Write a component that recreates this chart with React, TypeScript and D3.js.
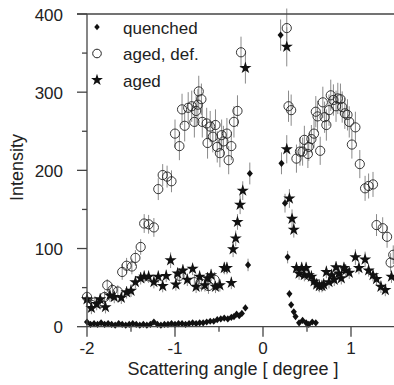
import React, { useEffect, useRef } from 'react'
import * as d3 from 'd3'

// [angle, intensity, error]
const quenched: [number, number, number][] = [
  [-2.0, 6, 2], [-1.96, 3, 2], [-1.92, 4, 2], [-1.88, 3, 2], [-1.84, 5, 2], [-1.8, 3, 2],
  [-1.76, 4, 2], [-1.72, 3, 2], [-1.68, 2, 2], [-1.64, 4, 2], [-1.6, 3, 2], [-1.56, 2, 2],
  [-1.52, 3, 2], [-1.48, 4, 2], [-1.44, 3, 2], [-1.4, 2, 2], [-1.36, 3, 2], [-1.32, 2, 2],
  [-1.28, 3, 2], [-1.24, 6, 2], [-1.2, 3, 2], [-1.16, 2, 2], [-1.12, 3, 2], [-1.08, 3, 2],
  [-1.04, 4, 2], [-1.0, 3, 2], [-0.96, 4, 2], [-0.92, 4, 2], [-0.88, 3, 2], [-0.84, 4, 2],
  [-0.8, 5, 2], [-0.76, 4, 2], [-0.72, 5, 2], [-0.68, 5, 2], [-0.64, 6, 2], [-0.6, 7, 2],
  [-0.56, 7, 2], [-0.52, 9, 2], [-0.48, 10, 2], [-0.44, 11, 2], [-0.4, 10, 2], [-0.36, 12, 2],
  [-0.33, 13, 3], [-0.3, 16, 3], [-0.27, 14, 3], [-0.24, 17, 3], [-0.2, 24, 4], [-0.17, 79, 8],
  [-0.15, 196, 14], [0.2, 373, 20], [0.21, 209, 14], [0.25, 158, 12], [0.28, 89, 8], [0.3, 42, 5],
  [0.32, 28, 4], [0.35, 19, 3], [0.37, 13, 3], [0.41, 5, 2], [0.45, 8, 2], [0.49, 5, 2],
  [0.52, 3, 2], [0.56, 6, 2], [0.6, 5, 2],
]

const agedDef: [number, number, number][] = [
  [-2.0, 38, 8], [-1.95, 28, 8], [-1.91, 31, 8], [-1.85, 30, 8], [-1.8, 38, 8], [-1.77, 53, 8],
  [-1.71, 47, 8], [-1.65, 45, 8], [-1.6, 70, 10], [-1.55, 78, 10], [-1.49, 77, 10], [-1.45, 88, 10],
  [-1.39, 102, 10], [-1.35, 132, 12], [-1.3, 131, 12], [-1.24, 127, 12], [-1.19, 176, 14],
  [-1.14, 194, 14], [-1.09, 192, 14], [-1.04, 186, 14], [-1.0, 247, 18], [-0.95, 231, 18],
  [-0.92, 278, 20], [-0.89, 257, 20], [-0.85, 280, 20], [-0.81, 282, 20], [-0.78, 262, 20],
  [-0.76, 276, 20], [-0.74, 284, 20], [-0.73, 301, 20], [-0.7, 291, 20], [-0.69, 262, 20],
  [-0.64, 260, 20], [-0.63, 235, 20], [-0.6, 256, 20], [-0.57, 243, 20], [-0.54, 258, 20],
  [-0.52, 230, 20], [-0.49, 222, 18], [-0.47, 245, 20], [-0.45, 237, 20], [-0.41, 247, 20],
  [-0.39, 213, 18], [-0.36, 231, 18], [-0.33, 262, 20], [-0.29, 276, 20], [-0.25, 351, 20],
  [-0.95, 65, 10], [-0.78, 57, 10], [-0.7, 55, 10], [-0.62, 52, 10], [-0.55, 60, 10],
  [0.27, 382, 25], [0.29, 282, 20], [0.32, 277, 20], [0.38, 215, 18], [0.42, 224, 18],
  [0.45, 224, 18], [0.47, 239, 18], [0.51, 221, 18], [0.52, 230, 18], [0.55, 240, 18],
  [0.58, 247, 18], [0.6, 275, 20], [0.62, 269, 20], [0.65, 225, 18], [0.68, 287, 20],
  [0.7, 268, 20], [0.72, 258, 20], [0.75, 277, 20], [0.77, 296, 20], [0.8, 290, 20],
  [0.83, 282, 20], [0.85, 292, 20], [0.88, 291, 20], [0.9, 281, 20], [0.93, 273, 20],
  [0.96, 271, 20], [0.98, 262, 20], [1.01, 233, 18], [1.05, 255, 20], [1.1, 208, 18],
  [1.16, 177, 16], [1.2, 180, 16], [1.25, 182, 16], [1.29, 130, 14], [1.36, 126, 14],
  [1.41, 115, 14], [1.45, 82, 12], [1.48, 92, 12],
]

const aged: [number, number, number][] = [
  [-2.0, 35, 8], [-1.95, 24, 8], [-1.89, 29, 8], [-1.85, 35, 8], [-1.79, 25, 8], [-1.74, 40, 8],
  [-1.69, 38, 8], [-1.61, 37, 8], [-1.55, 44, 8], [-1.5, 46, 8], [-1.45, 57, 8], [-1.39, 62, 8],
  [-1.35, 64, 8], [-1.3, 64, 8], [-1.24, 57, 8], [-1.19, 64, 8], [-1.14, 52, 8], [-1.1, 65, 8],
  [-1.05, 85, 10], [-0.99, 54, 8], [-0.97, 68, 8], [-0.91, 72, 8], [-0.86, 60, 8], [-0.8, 74, 8],
  [-0.76, 51, 8], [-0.72, 64, 8], [-0.66, 53, 8], [-0.63, 62, 8], [-0.59, 66, 8], [-0.54, 51, 8],
  [-0.49, 53, 8], [-0.44, 75, 8], [-0.41, 75, 8], [-0.36, 56, 8], [-0.34, 99, 10], [-0.31, 113, 10],
  [-0.29, 134, 10], [-0.26, 156, 12], [-0.23, 174, 12], [-0.2, 331, 20],
  [0.27, 358, 25], [0.27, 227, 18], [0.3, 164, 12], [0.33, 138, 12], [0.35, 124, 10],
  [0.38, 75, 8], [0.41, 68, 8], [0.44, 75, 8], [0.47, 66, 8], [0.49, 75, 8], [0.52, 66, 8],
  [0.55, 64, 8], [0.58, 58, 8], [0.61, 54, 8], [0.64, 52, 8], [0.67, 52, 8], [0.69, 54, 8],
  [0.72, 70, 8], [0.75, 57, 8], [0.78, 66, 8], [0.81, 60, 8], [0.83, 76, 8], [0.86, 68, 8],
  [0.89, 62, 8], [0.92, 75, 8], [0.94, 72, 8], [0.98, 69, 8], [1.05, 89, 10], [1.09, 75, 8],
  [1.16, 86, 10], [1.2, 72, 8], [1.25, 66, 8], [1.29, 61, 8], [1.34, 51, 8], [1.39, 47, 8],
  [1.46, 64, 8],
]

const xTicks = [-2, -1, 0, 1]
const xMinor = [-1.5, -0.5, 0.5]
const yTicks = [0, 100, 200, 300, 400]
const yMinor = [50, 150, 250, 350]
const legendLabels = ['quenched', 'aged, def.', 'aged']

const W = 394
const H = 385
const FONT = 'Liberation Sans, Arial, sans-serif'
const AXIS = '#444'

const diamondPath = (r: number) => `M0,${-r}L${r * 0.85},0L0,${r}L${-r * 0.85},0Z`

export default function App() {
  const svgRef = useRef<SVGSVGElement>(null)

  useEffect(() => {
    const svg = d3.select(svgRef.current)
    svg.selectAll('*').remove()

    const margin = { top: 14, right: 0, bottom: 58, left: 87 }
    const x = d3.scaleLinear().domain([-2, 1.5]).range([margin.left, 395])
    const y = d3.scaleLinear().domain([0, 400]).range([H - margin.bottom - 0.3, margin.top])

    const g = svg.append('g')

    // error bars
    const allSeries = [quenched, agedDef, aged]
    allSeries.forEach(series => {
      g.append('g').selectAll('line')
        .data(series)
        .enter()
        .append('line')
        .attr('x1', d => x(d[0]))
        .attr('x2', d => x(d[0]))
        .attr('y1', d => y(d[1] - d[2]))
        .attr('y2', d => y(d[1] + d[2]))
        .attr('stroke', '#8a8a8a')
        .attr('stroke-width', 1)
    })

    // aged, def. circles
    g.append('g').selectAll('circle')
      .data(agedDef)
      .enter()
      .append('circle')
      .attr('cx', d => x(d[0]))
      .attr('cy', d => y(d[1]))
      .attr('r', 4.6)
      .attr('fill', 'none')
      .attr('stroke', '#222')
      .attr('stroke-width', 0.9)

    // aged stars
    const star = d3.symbol().type(d3.symbolStar).size(46)
    g.append('g').selectAll('path')
      .data(aged)
      .enter()
      .append('path')
      .attr('d', star()!)
      .attr('transform', d => `translate(${x(d[0])},${y(d[1])})`)
      .attr('fill', '#111')

    // quenched diamonds
    g.append('g').selectAll('path')
      .data(quenched)
      .enter()
      .append('path')
      .attr('d', diamondPath(3.6))
      .attr('transform', d => `translate(${x(d[0])},${y(d[1])})`)
      .attr('fill', '#111')

    // axes
    const ax = svg.append('g')
    const y0 = y(0)
    ax.append('line').attr('x1', x(-2)).attr('x2', W).attr('y1', y0).attr('y2', y0)
      .attr('stroke', AXIS).attr('stroke-width', 1.3)
    ax.append('line').attr('x1', x(-2)).attr('x2', x(-2)).attr('y1', y0).attr('y2', y(400))
      .attr('stroke', AXIS).attr('stroke-width', 1.3)
    ax.append('line').attr('x1', x(-2) - 10).attr('x2', W).attr('y1', y(400)).attr('y2', y(400))
      .attr('stroke', AXIS).attr('stroke-width', 1.3)

    ax.selectAll('.xt').data(xTicks).enter().append('line')
      .attr('x1', d => x(d)).attr('x2', d => x(d)).attr('y1', y0).attr('y2', y0 + 10)
      .attr('stroke', AXIS).attr('stroke-width', 1.3)
    ax.selectAll('.xm').data(xMinor).enter().append('line')
      .attr('x1', d => x(d)).attr('x2', d => x(d)).attr('y1', y0).attr('y2', y0 + 5)
      .attr('stroke', AXIS).attr('stroke-width', 1.3)
    ax.selectAll('.yt').data(yTicks).enter().append('line')
      .attr('x1', x(-2) - 10).attr('x2', x(-2)).attr('y1', d => y(d)).attr('y2', d => y(d))
      .attr('stroke', AXIS).attr('stroke-width', 1.3)
    ax.selectAll('.ym').data(yMinor).enter().append('line')
      .attr('x1', x(-2) - 5).attr('x2', x(-2)).attr('y1', d => y(d)).attr('y2', d => y(d))
      .attr('stroke', AXIS).attr('stroke-width', 1.3)

    ax.selectAll('.xl').data(xTicks).enter().append('text')
      .attr('x', d => x(d)).attr('y', y0 + 27)
      .attr('text-anchor', 'middle')
      .attr('font-family', FONT).attr('font-size', 17).attr('fill', '#222')
      .text(d => (d < 0 ? '-' + Math.abs(d) : String(d)))
    ax.selectAll('.yl').data(yTicks).enter().append('text')
      .attr('x', x(-2) - 24).attr('y', d => y(d) + 6.5)
      .attr('text-anchor', 'end')
      .attr('font-family', FONT).attr('font-size', 17).attr('fill', '#222')
      .text(d => String(d))

    svg.append('text')
      .attr('x', 233).attr('y', 375)
      .attr('text-anchor', 'middle')
      .attr('font-family', FONT).attr('font-size', 18).attr('fill', '#222')
      .text('Scattering angle [ degree ]')
    svg.append('text')
      .attr('transform', 'translate(23,167.5) rotate(-90)')
      .attr('text-anchor', 'middle')
      .attr('font-family', FONT).attr('font-size', 18).attr('fill', '#222')
      .text('Intensity')

    // legend
    const lg = svg.append('g').attr('transform', 'translate(97,27)')
    legendLabels.forEach((label, i) => {
      const row = lg.append('g').attr('transform', `translate(0,${i * 26.5})`)
      if (i === 0) row.append('path').attr('d', diamondPath(3.2)).attr('fill', '#111')
      if (i === 1) row.append('circle').attr('r', 4.3).attr('fill', 'none').attr('stroke', '#222')
      if (i === 2) row.append('path').attr('d', d3.symbol().type(d3.symbolStar).size(44)()!).attr('fill', '#111')
      row.append('text')
        .attr('x', 26).attr('y', 6.5)
        .attr('font-family', FONT).attr('font-size', 17).attr('fill', '#222')
        .text(label)
    })
  }, [])

  return (
    <div style={{ position: 'absolute', left: 0, top: 0 }}>
      <svg ref={svgRef} width={W} height={H} style={{ display: 'block', background: '#fff' }} />
    </div>
  )
}
